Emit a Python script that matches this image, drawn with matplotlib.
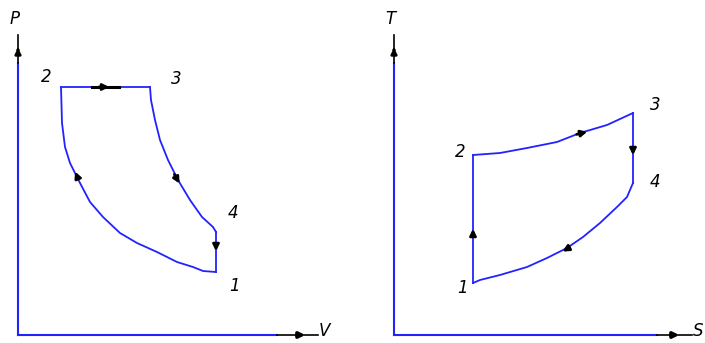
import matplotlib
matplotlib.use("Agg")
import matplotlib.pyplot as plt

# p-V cycle (points 1-2-3-4), picture units
pv_12_v = [216, 203, 193, 177, 157, 137, 120, 103, 90, 80, 70, 65, 62, 61]
pv_12_p = [272, 271, 267, 262, 252, 243, 233, 217, 202, 183, 163, 147, 123, 87]
pv_23_v = [61, 150]
pv_23_p = [87, 87]
pv_34_v = [150, 151, 155, 160, 168, 178, 190, 202, 213, 216]
pv_34_p = [87, 100, 120, 140, 160, 180, 200, 217, 227, 232]
pv_41_v = [216, 216]
pv_41_p = [232, 272]

# T-s cycle
ts_12_s = [473, 473]
ts_12_t = [283, 155]
ts_23_s = [473, 500, 527, 557, 580, 607, 633]
ts_23_t = [155, 153, 148, 142, 133, 125, 113]
ts_34_s = [633, 633]
ts_34_t = [113, 183]
ts_41_s = [633, 627, 617, 600, 583, 567, 547, 527, 500, 480, 473]
ts_41_t = [183, 197, 207, 223, 237, 248, 258, 267, 275, 280, 283]

point_labels = ["1", "2", "3", "4"]
pv_label_xy = [(235, 286), (46, 77), (176, 79), (233, 213)]
ts_label_xy = [(463, 288), (460, 152), (655, 105), (655, 182)]

blue = "#2222ff"

fig = plt.figure(figsize=(7.05, 3.43), dpi=100)
ax = fig.add_axes([0, 0, 1, 1])
ax.set_xlim(0, 705)
ax.set_ylim(343, 0)
ax.axis("off")


def draw_axes(x0, y0, x_end, x_tip, y_end, y_tip, xlabel, ylabel, xl_xy, yl_xy):
    ax.plot([x0, x0], [y0, y_end], color=blue, lw=1.5)
    ax.plot([x0, x_end], [y0, y0], color=blue, lw=1.5)
    ax.plot([x0, x0], [y_end, y_tip], color="black", lw=1.2)
    ax.plot([x_end, x_tip], [y0, y0], color="black", lw=1.2)
    ax.annotate("", xy=(x0, y_tip + 10), xytext=(x0, y_tip + 18),
                arrowprops=dict(arrowstyle="-|>", color="black", lw=2,
                                mutation_scale=8))
    ax.annotate("", xy=(x_tip - 10, y0), xytext=(x_tip - 24, y0),
                arrowprops=dict(arrowstyle="-|>", color="black", lw=2.5,
                                mutation_scale=8))
    ax.text(*xl_xy, xlabel, fontsize=12, style="italic", ha="center", va="center")
    ax.text(*yl_xy, ylabel, fontsize=12, style="italic", ha="center", va="center")


def mark(x1, y1, x2, y2):
    ax.annotate("", xy=(x2, y2), xytext=(x1, y1),
                arrowprops=dict(arrowstyle="-|>", color="black", lw=2,
                                mutation_scale=9))


# p-V diagram
draw_axes(18, 335, 277, 318, 63, 35, "V", "P", (324, 331), (15, 19))
for xs, ys in [(pv_12_v, pv_12_p), (pv_23_v, pv_23_p),
               (pv_34_v, pv_34_p), (pv_41_v, pv_41_p)]:
    ax.plot(xs, ys, color=blue, lw=1.3)
ax.plot([92, 119], [87, 87], color="black", lw=2.2)
mark(96, 87, 112, 87)
mark(79, 181, 74, 169)
mark(173, 172, 181, 186)
mark(216, 242, 216, 254)

# T-s diagram
draw_axes(394, 335, 657, 692, 63, 35, "S", "T", (698, 331), (390, 19))
for xs, ys in [(ts_12_s, ts_12_t), (ts_23_s, ts_23_t),
               (ts_34_s, ts_34_t), (ts_41_s, ts_41_t)]:
    ax.plot(xs, ys, color=blue, lw=1.3)
mark(473, 238, 473, 226)
mark(574, 135, 590, 131)
mark(633, 146, 633, 158)
mark(572, 246, 560, 253)

for lab, (x, y) in zip(point_labels, pv_label_xy):
    ax.text(x, y, lab, fontsize=12, style="italic", ha="center", va="center")
for lab, (x, y) in zip(point_labels, ts_label_xy):
    ax.text(x, y, lab, fontsize=12, style="italic", ha="center", va="center")

fig.savefig("out.png", dpi=100)
